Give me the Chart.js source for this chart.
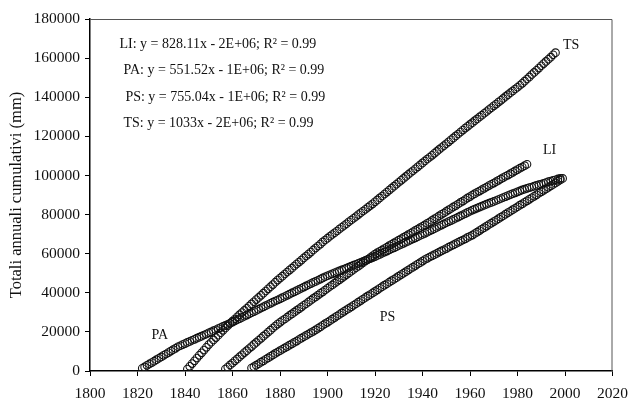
<!DOCTYPE html>
<html>
<head>
<meta charset="utf-8">
<script src="https://cdn.jsdelivr.net/npm/chart.js@4/dist/chart.umd.min.js"></script>
<style>
  html, body { margin: 0; padding: 0; background: #fff; }
</style>
</head>
<body>
<canvas id="cum-chart" width="637" height="399"></canvas>
<script>
// cumulative annual totals (mm), one value per year from the start year
const liStart = 1857;
const liCum = [
  1000, 2000, 3100, 4100, 5200, 6200, 7300, 8300, 9400, 10400,
  11500, 12500, 13600, 14600, 15700, 16700, 17800, 18800, 19900, 20900,
  22000, 23000, 24000, 24900, 25800, 26600, 27500, 28400, 29200, 30100,
  31000, 31800, 32700, 33600, 34400, 35300, 36200, 37100, 37900, 38800,
  39700, 40500, 41400, 42300, 43200, 44000, 44900, 45800, 46600, 47500,
  48400, 49300, 50100, 51000, 51900, 52800, 53600, 54500, 55400, 56300,
  57100, 58000, 58900, 59800, 60500, 61200, 61900, 62600, 63300, 64100,
  64800, 65500, 66200, 66900, 67600, 68300, 69000, 69700, 70400, 71200,
  71900, 72600, 73300, 74000, 74700, 75500, 76200, 77000, 77800, 78500,
  79300, 80100, 80800, 81600, 82400, 83100, 83900, 84600, 85400, 86200,
  86900, 87700, 88500, 89200, 90000, 90700, 91400, 92000, 92700, 93400,
  94100, 94800, 95500, 96100, 96800, 97500, 98200, 98900, 99600, 100200,
  100900, 101600, 102300, 103000, 103700, 104300, 105000, 105700
];

const paStart = 1822;
const paCum = [
  1400, 2100, 2900, 3600, 4300, 5000, 5800, 6500, 7200, 8000,
  8700, 9400, 10200, 10900, 11600, 12400, 12900, 13500, 14000, 14600,
  15100, 15700, 16200, 16800, 17300, 17800, 18400, 18900, 19500, 20000,
  20600, 21100, 21700, 22200, 22800, 23300, 23900, 24400, 25000, 25600,
  26200, 26800, 27400, 28000, 28600, 29200, 29800, 30400, 31000, 31600,
  32200, 32800, 33400, 34000, 34600, 35200, 35800, 36300, 36900, 37500,
  38100, 38700, 39300, 39900, 40500, 41100, 41700, 42300, 42900, 43500,
  44100, 44700, 45300, 45800, 46400, 47000, 47600, 48200, 48700, 49200,
  49700, 50200, 50700, 51200, 51700, 52100, 52600, 53100, 53600, 54100,
  54600, 55100, 55600, 56100, 56600, 57000, 57500, 58000, 58500, 59100,
  59600, 60200, 60800, 61300, 61900, 62500, 63000, 63600, 64200, 64700,
  65300, 65900, 66400, 67000, 67600, 68100, 68700, 69300, 69800, 70400,
  71000, 71600, 72200, 72800, 73400, 74000, 74600, 75200, 75800, 76400,
  76900, 77500, 78100, 78700, 79300, 79900, 80500, 81100, 81700, 82300,
  82800, 83300, 83800, 84300, 84800, 85300, 85800, 86200, 86700, 87200,
  87700, 88200, 88700, 89200, 89700, 90200, 90700, 91100, 91600, 92100,
  92600, 93000, 93400, 93800, 94100, 94500, 94900, 95300, 95600, 96000,
  96400, 96800, 97100, 97500, 97800, 98200, 98500
];

const psStart = 1868;
const psCum = [
  1500, 2200, 3000, 3700, 4500, 5200, 6000, 6700, 7500, 8200,
  9000, 9700, 10400, 11100, 11800, 12500, 13200, 13900, 14600, 15300,
  16100, 16800, 17500, 18200, 18900, 19600, 20300, 21000, 21800, 22600,
  23400, 24200, 24900, 25700, 26500, 27300, 28100, 28900, 29700, 30500,
  31300, 32000, 32800, 33600, 34400, 35200, 36000, 36800, 37600, 38400,
  39100, 39900, 40700, 41500, 42300, 43100, 43900, 44600, 45400, 46200,
  46900, 47700, 48500, 49300, 50000, 50800, 51600, 52400, 53100, 53900,
  54700, 55400, 56200, 57000, 57600, 58300, 58900, 59500, 60100, 60800,
  61400, 62000, 62600, 63300, 63900, 64500, 65100, 65800, 66400, 67000,
  67600, 68300, 68900, 69500, 70300, 71000, 71800, 72600, 73300, 74100,
  74900, 75600, 76400, 77100, 77900, 78700, 79400, 80200, 81000, 81700,
  82500, 83200, 84000, 84800, 85500, 86300, 87000, 87800, 88600, 89300,
  90100, 90900, 91600, 92400, 93100, 93900, 94700, 95400, 96200, 97000,
  97700, 98500
];

const tsStart = 1841;
const tsCum = [
  1000, 2400, 3800, 5200, 6600, 8000, 9300, 10700, 12100, 13500,
  14700, 15900, 17100, 18300, 19600, 20800, 22000, 23200, 24400, 25500,
  26600, 27700, 28800, 29900, 31000, 32100, 33200, 34300, 35400, 36500,
  37600, 38700, 39800, 40900, 42000, 43100, 44200, 45400, 46500, 47500,
  48500, 49600, 50600, 51600, 52600, 53700, 54700, 55700, 56700, 57800,
  58800, 59800, 60800, 61900, 62900, 63900, 64900, 66000, 67000, 67900,
  68900, 69800, 70700, 71600, 72600, 73500, 74400, 75300, 76300, 77200,
  78100, 79000, 80000, 80900, 81800, 82700, 83700, 84600, 85500, 86500,
  87500, 88500, 89500, 90500, 91500, 92500, 93500, 94500, 95500, 96500,
  97500, 98500, 99500, 100500, 101500, 102400, 103400, 104400, 105400, 106400,
  107400, 108400, 109300, 110300, 111300, 112300, 113300, 114300, 115200, 116200,
  117200, 118200, 119200, 120200, 121200, 122200, 123200, 124200, 125100, 126100,
  127000, 128000, 128900, 129900, 130800, 131800, 132700, 133700, 134600, 135600,
  136500, 137500, 138400, 139400, 140400, 141300, 142300, 143200, 144200, 145100,
  146100, 147100, 148200, 149300, 150400, 151600, 152700, 153800, 154900, 156100,
  157200, 158300, 159400, 160500, 161700, 162800
];

const seriesNames = ["LI", "PA", "PS", "TS"];
const equations = [
  "LI: y = 828.11x - 2E+06; R\u00b2 = 0.99",
  "PA: y = 551.52x - 1E+06; R\u00b2 = 0.99",
  "PS: y = 755.04x - 1E+06; R\u00b2 = 0.99",
  "TS: y = 1033x - 2E+06; R\u00b2 = 0.99"
];
// where the texts sit, in axis units
const eqAt = [[1812.4, 167200], [1814.1, 153900], [1814.9, 140100], [1814.1, 126800]];
const nameAt = [[1993.5, 113000], [1829.4, 18400], [1925.3, 27600], [2002.6, 166700]];

const serif = "Liberation Serif";

function toPoints(start, values) {
  return values.map((v, i) => ({ x: start + i, y: v }));
}

const textLabels = {
  id: "textLabels",
  beforeDatasetsDraw(chart) {
    const { ctx, chartArea: a } = chart;
    ctx.save();
    ctx.strokeStyle = "#555";
    ctx.lineWidth = 1;
    ctx.beginPath();
    ctx.moveTo(a.left, a.top + 0.5);
    ctx.lineTo(a.right - 0.5, a.top + 0.5);
    ctx.lineTo(a.right - 0.5, a.bottom);
    ctx.stroke();
    ctx.restore();
  },
  afterDraw(chart) {
    const ctx = chart.ctx;
    const xs = chart.scales.x, ys = chart.scales.y;
    ctx.save();
    ctx.fillStyle = "#111";
    ctx.font = "14px '" + serif + "'";
    ctx.textBaseline = "middle";
    ctx.textAlign = "left";
    equations.forEach((eq, i) => {
      ctx.fillText(eq, xs.getPixelForValue(eqAt[i][0]), ys.getPixelForValue(eqAt[i][1]));
    });
    ctx.textAlign = "center";
    seriesNames.forEach((name, i) => {
      ctx.fillText(name, xs.getPixelForValue(nameAt[i][0]), ys.getPixelForValue(nameAt[i][1]));
    });
    ctx.restore();
  }
};

const allSeries = [
  toPoints(liStart, liCum),
  toPoints(paStart, paCum),
  toPoints(psStart, psCum),
  toPoints(tsStart, tsCum)
];

new Chart(document.getElementById("cum-chart"), {
  type: "scatter",
  data: {
    datasets: allSeries.map((pts, i) => ({
      label: seriesNames[i],
      data: pts,
      pointStyle: "circle",
      pointRadius: 3.8,
      borderWidth: 1.1,
      borderColor: "#111",
      backgroundColor: "rgba(255,255,255,0)",
      showLine: false
    }))
  },
  options: {
    responsive: false,
    animation: false,
    devicePixelRatio: 1,
    layout: { padding: { left: 0, top: 19, right: 15, bottom: 0 } },
    plugins: {
      legend: { display: false },
      tooltip: { enabled: false }
    },
    scales: {
      x: {
        type: "linear",
        min: 1800,
        max: 2020,
        ticks: {
          stepSize: 20,
          color: "#111",
          padding: 9,
          maxRotation: 0,
          font: { family: serif, size: 15.5 },
          callback: v => String(v)
        },
        grid: { drawOnChartArea: false, tickLength: 5, color: "#000" },
        border: { color: "#000", width: 1.5 },
        afterFit: s => { s.height = 28; }
      },
      y: {
        min: 0,
        max: 180000,
        ticks: {
          stepSize: 20000,
          color: "#111",
          padding: 5,
          font: { family: serif, size: 15.5 },
          callback: v => String(v)
        },
        grid: { drawOnChartArea: false, tickLength: 5, color: "#000" },
        border: { color: "#000", width: 1.5 },
        title: {
          display: true,
          text: "Totali annuali cumulativi (mm)",
          color: "#111",
          font: { family: serif, size: 16.5 },
          padding: { top: 7, bottom: 0 }
        },
        afterFit: s => { s.width = 90; }
      }
    }
  },
  plugins: [textLabels]
});
</script>
</body>
</html>
